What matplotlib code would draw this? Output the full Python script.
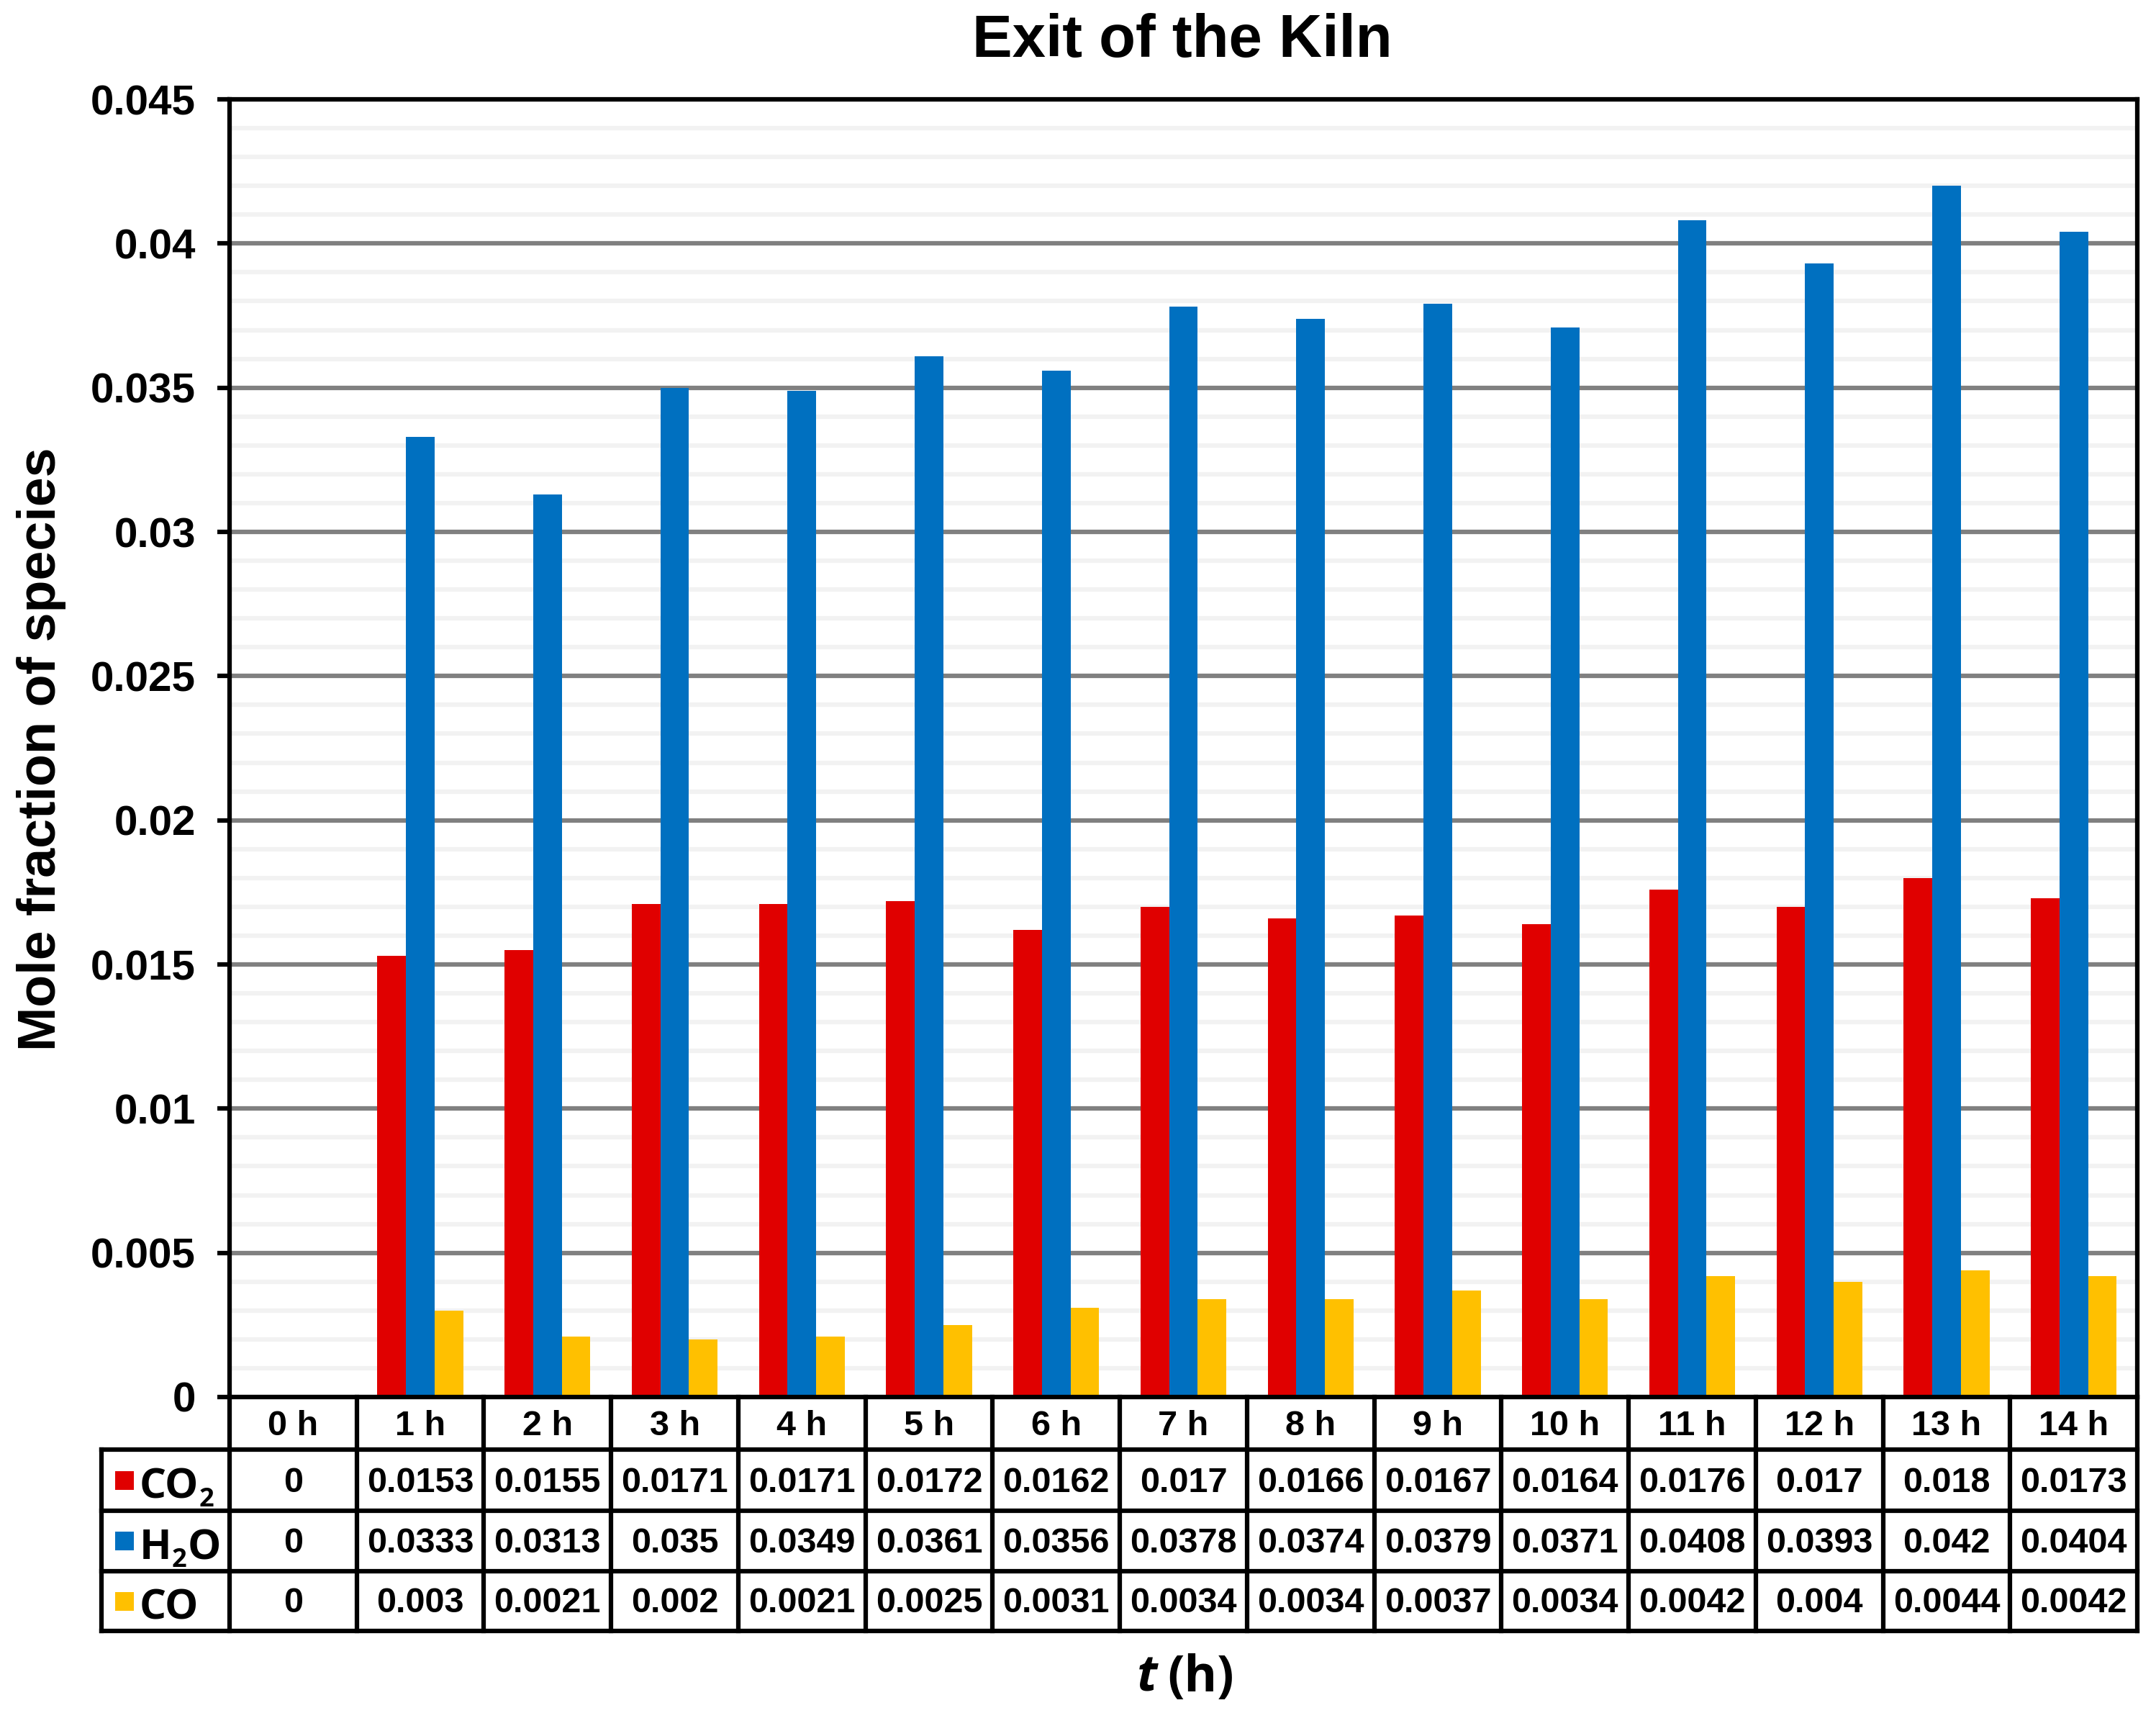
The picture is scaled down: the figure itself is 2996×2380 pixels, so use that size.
import re
import matplotlib
matplotlib.use("Agg")
import matplotlib.pyplot as plt
import matplotlib.transforms as mtransforms
from matplotlib.lines import Line2D
from matplotlib.patches import Rectangle
from matplotlib.ticker import MultipleLocator, FixedLocator, FixedFormatter
import numpy as np

# ---------------- data ----------------
hours = ["0 h", "1 h", "2 h", "3 h", "4 h", "5 h", "6 h", "7 h", "8 h",
         "9 h", "10 h", "11 h", "12 h", "13 h", "14 h"]
series_names = ["CO$_2$", "H$_2$O", "CO"]
co2 = [0, 0.0153, 0.0155, 0.0171, 0.0171, 0.0172, 0.0162, 0.017, 0.0166,
       0.0167, 0.0164, 0.0176, 0.017, 0.018, 0.0173]
h2o = [0, 0.0333, 0.0313, 0.035, 0.0349, 0.0361, 0.0356, 0.0378, 0.0374,
       0.0379, 0.0371, 0.0408, 0.0393, 0.042, 0.0404]
co = [0, 0.003, 0.0021, 0.002, 0.0021, 0.0025, 0.0031, 0.0034, 0.0034,
      0.0037, 0.0034, 0.0042, 0.004, 0.0044, 0.0042]
y_tick_values = [0, 0.005, 0.01, 0.015, 0.02, 0.025, 0.03, 0.035, 0.04, 0.045]
y_tick_labels = ["0", "0.005", "0.01", "0.015", "0.02", "0.025", "0.03",
                 "0.035", "0.04", "0.045"]
title = "Exit of the Kiln"
ylabel = "Mole fraction of species"

series = [co2, h2o, co]
colors = ["#E00000", "#0070C0", "#FFC000"]

# ---------------- style ----------------
plt.rcParams["font.family"] = ["Liberation Sans", "DejaVu Sans"]
plt.rcParams["font.weight"] = "bold"

W, H = 2996, 2380
DPI = 100
LW = 4.5
LABEL_FONT = ["Open Sans", "DejaVu Sans"]

def fx(px):
    return px / W

def fy(py):
    return 1 - py / H

fig = plt.figure(figsize=(W / DPI, H / DPI), dpi=DPI)
fig.patch.set_facecolor("white")

AX_L, AX_R, AX_T, AX_B = 319, 2970, 138, 1941
ax = fig.add_axes([fx(AX_L), fy(AX_B), fx(AX_R) - fx(AX_L), fy(AX_T) - fy(AX_B)])

x = np.arange(len(hours))
bw = 0.225
for k, (vals, col) in enumerate(zip(series, colors)):
    ax.bar(x + (k - 1) * bw, vals, width=bw, color=col, linewidth=0, zorder=2)

ax.set_xlim(-0.5, len(hours) - 0.5)
ax.set_ylim(0, 0.045)

ax.yaxis.set_major_locator(FixedLocator(y_tick_values))
ax.yaxis.set_major_formatter(FixedFormatter(y_tick_labels))
ax.yaxis.set_minor_locator(MultipleLocator(0.001))
ax.set_axisbelow(True)
ax.yaxis.grid(True, which="minor", color="#F2F2F2", linewidth=LW)
ax.yaxis.grid(True, which="major", color="#808080", linewidth=LW)
ax.tick_params(axis="y", which="major", direction="out", length=12, width=LW,
               pad=22, labelsize=42, color="black")
ax.tick_params(axis="y", which="minor", length=0)
ax.set_xticks(np.arange(-0.5, len(hours), 1.0))
ax.tick_params(axis="x", which="major", direction="out", length=0, labelbottom=False)
for lab in ax.get_yticklabels():
    lab.set_fontweight("bold")
for sp in ax.spines.values():
    sp.set_color("black")
    sp.set_linewidth(LW)

# title and axis labels
fig.text(fx(1643), fy(79), title, ha="center", va="baseline",
         fontsize=60, fontweight="bold")
fig.text(fx(58), fy(1041), ylabel, rotation=90, ha="center", va="center",
         fontsize=53, fontweight="bold")
fig.text(fx(1608), fy(2350), "t", ha="right", va="baseline", fontsize=50,
         fontweight="bold", fontstyle="italic", family=LABEL_FONT)
fig.text(fx(1622), fy(2350), "(h)", ha="left", va="baseline", fontsize=50,
         fontweight="bold", family=LABEL_FONT)

# ---------------- data table ----------------
trans = mtransforms.blended_transform_factory(ax.transData, fig.transFigure)
TAB_L = 141
row_edges = [AX_B, 2014, 2099, 2183, 2266]

for b in np.arange(-0.5, len(hours), 1.0):
    fig.add_artist(Line2D([b, b], [fy(row_edges[0]), fy(row_edges[-1])],
                          transform=trans, color="black", lw=LW,
                          solid_capstyle="projecting", clip_on=False))
for r in row_edges[1:]:
    fig.add_artist(Line2D([fx(TAB_L), fx(AX_R)], [fy(r), fy(r)],
                          transform=fig.transFigure, color="black", lw=LW,
                          solid_capstyle="projecting"))
fig.add_artist(Line2D([fx(TAB_L), fx(TAB_L)], [fy(row_edges[1]), fy(row_edges[-1])],
                      transform=fig.transFigure, color="black", lw=LW,
                      solid_capstyle="projecting"))

hb = row_edges[0] + 0.73 * (row_edges[1] - row_edges[0])
for i, lab in enumerate(hours):
    ax.text(i, fy(hb), lab, transform=trans, ha="center", va="baseline",
            fontsize=35, fontweight="bold", clip_on=False)

renderer = fig.canvas.get_renderer()

def draw_chem(x_px, base_px, label, size=42, sub_size=26, sub_drop=11):
    parts = re.split(r"\$_(.+?)\$", label)
    cur = x_px
    for j, part in enumerate(parts):
        if not part:
            continue
        is_sub = j % 2 == 1
        t = fig.text(fx(cur), fy(base_px + (sub_drop if is_sub else 0)), part,
                     ha="left", va="baseline",
                     fontsize=sub_size if is_sub else size,
                     fontweight="bold", family=LABEL_FONT)
        bb = t.get_window_extent(renderer)
        cur += bb.width + (1 if is_sub else 0)

for k, (vals, name, col) in enumerate(zip(series, series_names, colors)):
    top, bot = row_edges[k + 1], row_edges[k + 2]
    base = top + 0.69 * (bot - top)
    for i, v in enumerate(vals):
        ax.text(i, fy(base), f"{v:g}", transform=trans, ha="center",
                va="baseline", fontsize=35, fontweight="bold", clip_on=False)
    sq = 26
    cy = (top + bot) / 2
    fig.add_artist(Rectangle((fx(160), fy(cy + sq / 2)), sq / W, sq / H,
                             transform=fig.transFigure, facecolor=col,
                             edgecolor="none"))
    lbase = top + 0.80 * (bot - top)
    draw_chem(194, lbase, name)

fig.savefig("out.png", dpi=DPI, facecolor="white")
